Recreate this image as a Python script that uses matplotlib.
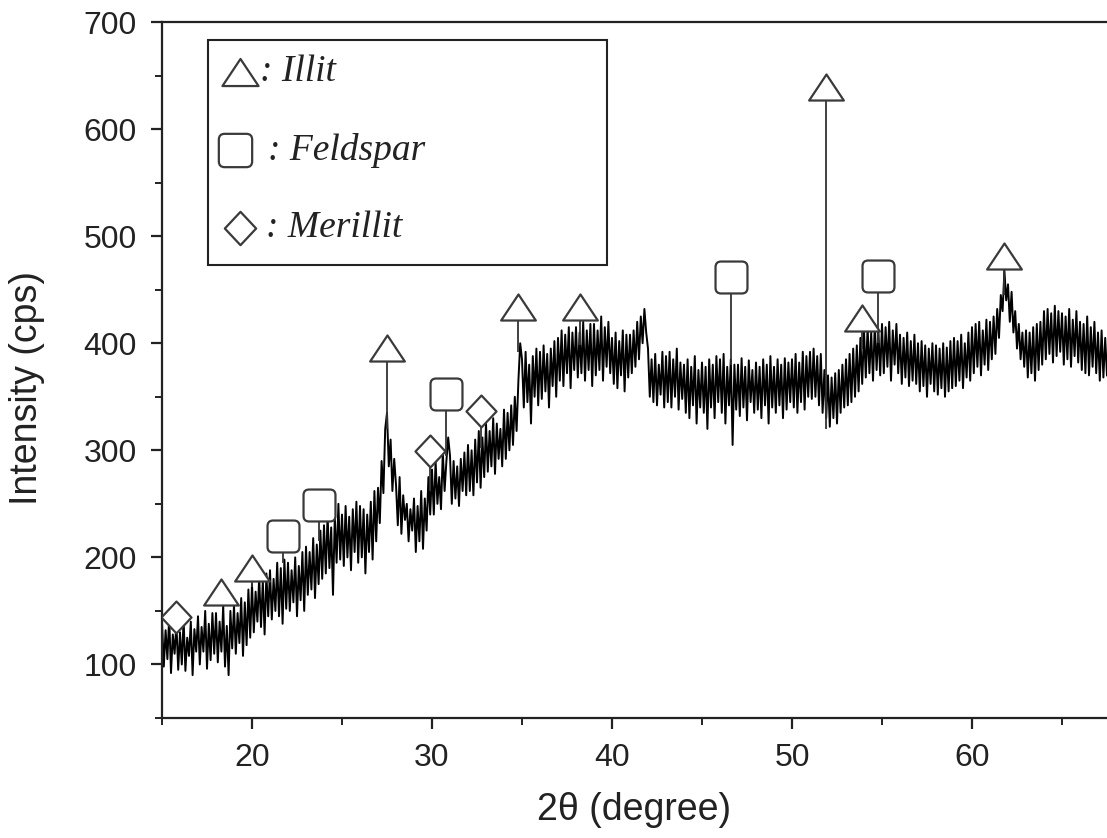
import numpy as np
import matplotlib.pyplot as plt
from matplotlib.path import Path
from matplotlib.patches import Rectangle

# XRD trace at 0.1 degree steps (15.0 ... 67.5)
two_theta = np.round(np.arange(15.0, 67.55, 0.1), 1)
intensity = [
    140, 98, 132, 105, 145, 92, 128, 110, 138, 95,
    130, 100, 142, 94, 125, 108, 140, 90, 133, 112,
    145, 100, 135, 112, 150, 96, 138, 104, 148, 110,
    148, 102, 140, 112, 155, 98, 136, 90, 150, 115,
    155, 110, 148, 120, 162, 108, 158, 118, 170, 125,
    175, 130, 168, 140, 182, 135, 178, 128, 185, 145,
    188, 142, 180, 150, 195, 145, 190, 138, 198, 152,
    195, 150, 188, 158, 200, 145, 192, 160, 205, 150,
    210, 165, 205, 170, 218, 162, 212, 175, 225, 180,
    230, 185, 240, 190, 228, 165, 238, 195, 250, 198,
    240, 192, 248, 200, 238, 188, 245, 205, 252, 195,
    248, 200, 245, 185, 240, 205, 252, 198, 262, 215,
    265, 232, 290, 260, 320, 335, 285, 310, 262, 292,
    268, 230, 275, 222, 258, 235, 250, 215, 245, 225,
    255, 205, 248, 215, 262, 208, 255, 225, 275, 240,
    282, 240, 290, 250, 275, 245, 298, 262, 290, 312,
    295, 250, 290, 255, 285, 248, 292, 262, 298, 258,
    305, 262, 300, 258, 310, 270, 318, 265, 312, 275,
    325, 280, 318, 285, 330, 278, 325, 292, 320, 285,
    338, 292, 335, 300, 342, 305, 350, 318, 365, 400,
    385, 340, 392, 345, 380, 325, 388, 350, 395, 342,
    392, 348, 398, 355, 390, 340, 395, 360, 402, 350,
    405, 365, 412, 360, 408, 372, 415, 358, 410, 375,
    415, 368, 410, 372, 420, 365, 412, 375, 418, 360,
    418, 370, 412, 375, 425, 365, 415, 378, 420, 372,
    405, 362, 410, 358, 402, 370, 412, 355, 408, 368,
    408, 372, 412, 378, 420, 385, 425, 400, 432, 410,
    395, 350, 385, 345, 390, 342, 380, 352, 392, 340,
    388, 345, 392, 340, 385, 350, 395, 338, 382, 348,
    380, 335, 385, 330, 378, 342, 388, 325, 375, 340,
    382, 335, 378, 320, 385, 340, 380, 330, 388, 345,
    385, 335, 390, 325, 378, 342, 385, 305, 380, 338,
    380, 332, 386, 340, 378, 328, 384, 345, 375, 335,
    382, 338, 378, 330, 385, 342, 380, 325, 388, 340,
    378, 335, 385, 342, 380, 330, 386, 338, 382, 345,
    385, 340, 390, 335, 382, 345, 392, 338, 388, 350,
    392, 348, 395, 350, 388, 342, 390, 335, 375, 330,
    370, 322, 368, 330, 372, 325, 375, 335, 380, 340,
    385, 342, 390, 345, 395, 350, 398, 355, 405, 362,
    412, 368, 415, 372, 410, 365, 418, 375, 412, 370,
    418, 372, 415, 378, 420, 365, 412, 380, 418, 372,
    408, 362, 405, 368, 410, 360, 402, 365, 408, 362,
    400, 355, 402, 360, 398, 350, 395, 362, 400, 355,
    398, 352, 395, 358, 400, 350, 396, 355, 402, 358,
    405, 360, 402, 365, 408, 358, 400, 368, 410, 365,
    415, 372, 418, 378, 420, 370, 412, 380, 422, 375,
    420, 385, 425, 390, 432, 405, 445, 430, 468, 440,
    455, 420, 448, 410, 430, 395, 418, 385, 410, 378,
    412, 368, 410, 372, 415, 365, 418, 375, 420, 380,
    430, 385, 432, 390, 428, 382, 435, 388, 430, 392,
    428, 380, 425, 385, 432, 378, 422, 388, 430, 382,
    420, 375, 418, 372, 425, 370, 415, 378, 420, 372,
    410, 365, 412, 368, 405, 370,
]

# phase markers: position, marker height, lower end of the stem
illit_x = [18.3, 20.0, 27.5, 34.8, 38.2, 51.9, 53.9, 61.8]
illit_y = [168, 190, 396, 434, 434, 639, 424, 481]
illit_low = [160, 172, 320, 392, 398, 320, 395, 445]

feldspar_x = [21.7, 23.7, 30.8, 46.6, 54.8]
feldspar_y = [220, 249, 353, 462, 463]
feldspar_low = [195, 215, 295, 380, 400]

merillit_x = [15.8, 29.9, 32.7]
merillit_y = [144, 299, 337]
merillit_low = [128, 262, 302]

legend_labels = [": Illit", ": Feldspar", ": Merillit"]

# marker shapes
tri = Path([(-1, -0.75), (0, 0.75), (1, -0.75), (-1, -0.75)],
           [Path.MOVETO, Path.LINETO, Path.LINETO, Path.CLOSEPOLY])
r = 0.35
sq_verts = [(-1 + r, -1), (1 - r, -1), (1, -1), (1, -1 + r), (1, 1 - r), (1, 1), (1 - r, 1),
            (-1 + r, 1), (-1, 1), (-1, 1 - r), (-1, -1 + r), (-1, -1), (-1 + r, -1), (-1 + r, -1)]
sq_codes = [Path.MOVETO, Path.LINETO, Path.CURVE3, Path.CURVE3, Path.LINETO, Path.CURVE3, Path.CURVE3,
            Path.LINETO, Path.CURVE3, Path.CURVE3, Path.LINETO, Path.CURVE3, Path.CURVE3, Path.CLOSEPOLY]
rsquare = Path(sq_verts, sq_codes)
diamond = Path([(0, 1), (0.94, 0), (0, -1), (-0.94, 0), (0, 1)],
               [Path.MOVETO, Path.LINETO, Path.LINETO, Path.LINETO, Path.CLOSEPOLY])

edge = '#3a3a3a'
mk = dict(linestyle='none', markerfacecolor='white', markeredgecolor=edge, markeredgewidth=1.6, zorder=5)

fig = plt.figure(figsize=(11.07, 8.38), dpi=100)
ax = fig.add_axes([162 / 1107, 120 / 838, 945 / 1107, 696 / 838])

ax.plot(two_theta, intensity, color='black', lw=1.4, zorder=2)

for xs, ys, lows in [(illit_x, illit_y, illit_low), (feldspar_x, feldspar_y, feldspar_low),
                     (merillit_x, merillit_y, merillit_low)]:
    ax.vlines(xs, lows, ys, color='#333333', lw=1.3, zorder=3)

ax.plot(illit_x, illit_y, marker=tri, markersize=25, **mk)
ax.plot(feldspar_x, feldspar_y, marker=rsquare, markersize=23, **mk)
ax.plot(merillit_x, merillit_y, marker=diamond, markersize=23, **mk)

# hand-made legend box
ax.add_patch(Rectangle((0.0487, 0.651), 0.4223, 0.323, transform=ax.transAxes,
                       facecolor='white', edgecolor='#222222', lw=1.5, zorder=6))
leg_y = [0.928, 0.816, 0.704]
leg_marker = [(tri, 26, 0.0825), (rsquare, 24, 0.077), (diamond, 24, 0.0825)]
leg_text_x = [0.104, 0.112, 0.110]
for (m, ms, mx), yy, tx, lab in zip(leg_marker, leg_y, leg_text_x, legend_labels):
    ax.plot([mx], [yy], marker=m, markersize=ms, transform=ax.transAxes,
            linestyle='none', markerfacecolor='white', markeredgecolor=edge,
            markeredgewidth=1.6, zorder=7, clip_on=False)
    ax.text(tx, yy, lab, transform=ax.transAxes, family='Liberation Serif', style='italic',
            fontsize=27, color='#222222', va='center', ha='left', zorder=7)

ax.set_xlim(15, 67.5)
ax.set_ylim(50, 700)
ax.set_xticks([20, 30, 40, 50, 60])
ax.set_xticks(np.arange(15, 67, 5), minor=True)
ax.set_yticks([100, 200, 300, 400, 500, 600, 700])
ax.set_yticks(np.arange(50, 701, 50), minor=True)

for s in ['left', 'bottom', 'top']:
    ax.spines[s].set_linewidth(1.6)
    ax.spines[s].set_color('#222222')
ax.spines['right'].set_visible(False)

ax.tick_params(which='major', direction='out', length=8, width=1.6, color='#222222',
               labelsize=23, labelcolor='#222222', pad=10)
ax.tick_params(which='minor', direction='out', length=5, width=1.4, color='#222222')
for lbl in ax.get_xticklabels() + ax.get_yticklabels():
    lbl.set_family('Liberation Sans')

ax.set_xlabel('2θ (degree)', family='Liberation Sans', fontsize=27, color='#222222', labelpad=14)
ax.set_ylabel('Intensity (cps)', family='Liberation Sans', fontsize=27, color='#222222')
ax.yaxis.set_label_coords(-0.124, 0.474)

fig.savefig('out.png', dpi=100)
